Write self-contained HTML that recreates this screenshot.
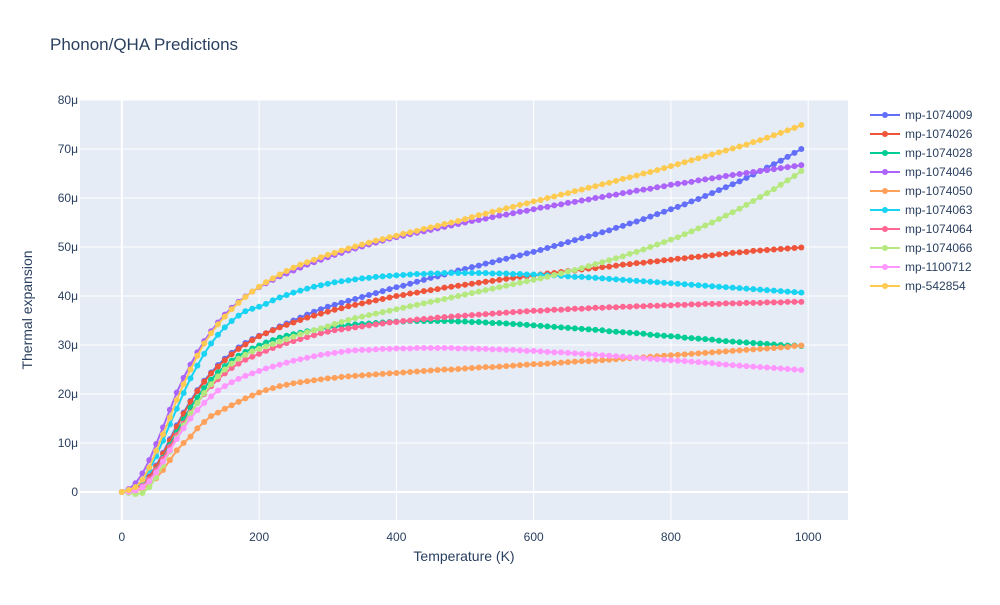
<!DOCTYPE html>
<html><head><meta charset="utf-8"><style>
body{margin:0;background:#fff;font-family:"Liberation Sans",sans-serif}
svg text{font-family:"Liberation Sans",sans-serif;fill:#2a3f5f}
</style></head><body>
<svg id="chart" width="1000" height="600" xmlns="http://www.w3.org/2000/svg">
<rect width="1000" height="600" fill="#fff"/>
<rect x="80" y="100" width="768" height="420" fill="#E5ECF6"/>
<g id="grid"></g><g id="series"></g><g id="legend"></g>
<text x="50" y="50" font-size="17">Phonon/QHA Predictions</text>
<text x="464" y="561" font-size="14" text-anchor="middle">Temperature (K)</text>
<text x="0" y="0" font-size="14" text-anchor="middle" transform="translate(32,310) rotate(-90)">Thermal expansion</text>
</svg>
<script>
const names=["mp-1074009","mp-1074026","mp-1074028","mp-1074046","mp-1074050","mp-1074063","mp-1074064","mp-1074066","mp-1100712","mp-542854"];
const colors=["#636efa","#EF553B","#00cc96","#ab63fa","#FFA15A","#19d3f3","#FF6692","#B6E880","#FF97FF","#FECB52"];
const xTicks=[0,200,400,600,800,1000];
const yTicks=[0,10,20,30,40,50,60,70,80];
const yTickLabels=["0","10μ","20μ","30μ","40μ","50μ","60μ","70μ","80μ"];
const temps=[0,10,20,30,40,50,60,70,80,90,100,110,120,130,140,150,160,170,180,190,200,210,220,230,240,250,260,270,280,290,300,310,320,330,340,350,360,370,380,390,400,410,420,430,440,450,460,470,480,490,500,510,520,530,540,550,560,570,580,590,600,610,620,630,640,650,660,670,680,690,700,710,720,730,740,750,760,770,780,790,800,810,820,830,840,850,860,870,880,890,900,910,920,930,940,950,960,970,980,990];
const s1074009=[0,0.2,0.7,1.6,3.2,5.4,8,10.8,13.6,16.2,18.6,20.8,22.7,24.4,25.9,27.2,28.4,29.5,30.4,31.2,31.9,32.4,33.1,33.8,34.4,35,35.6,36.2,36.8,37.3,37.8,38.2,38.6,39,39.4,39.8,40.2,40.6,41,41.4,41.8,42.1,42.5,42.9,43.3,43.7,44,44.4,44.8,45.2,45.5,45.9,46.2,46.6,46.9,47.3,47.6,48,48.3,48.7,49,49.4,49.8,50.2,50.6,51,51.4,51.8,52.2,52.6,53,53.4,53.9,54.3,54.8,55.2,55.7,56.2,56.7,57.2,57.7,58.2,58.7,59.3,59.8,60.4,61,61.6,62.2,62.8,63.4,64.1,64.8,65.5,66.2,66.9,67.6,68.4,69.2,70];
const s1074026=[0,0.2,0.6,1.5,3,5.2,7.8,10.5,13.3,16,18.4,20.6,22.5,24.2,25.6,26.9,28.1,29.2,30.1,31,31.8,32.4,33,33.6,34.1,34.6,35.1,35.6,36,36.4,36.8,37.2,37.5,37.9,38.2,38.5,38.8,39.1,39.4,39.7,40,40.2,40.5,40.7,41,41.2,41.4,41.7,41.9,42.1,42.3,42.5,42.7,42.9,43.1,43.3,43.5,43.7,43.9,44,44.2,44.4,44.6,44.7,44.9,45.1,45.2,45.4,45.6,45.7,45.9,46,46.2,46.4,46.5,46.7,46.8,47,47.1,47.3,47.4,47.6,47.7,47.9,48,48.2,48.3,48.5,48.6,48.8,48.9,49,49.2,49.3,49.4,49.5,49.6,49.7,49.8,49.9];
const s1074028=[0,0.1,0.4,1.2,2.6,4.6,7,9.6,12.2,14.8,17.2,19.3,21.2,22.9,24.4,25.7,26.8,27.8,28.6,29.3,29.9,30.5,31,31.5,31.9,32.2,32.5,32.8,33,33.3,33.5,33.7,33.9,34,34.2,34.3,34.4,34.5,34.6,34.7,34.8,34.8,34.9,34.9,34.9,34.9,34.9,34.9,34.9,34.8,34.8,34.7,34.7,34.6,34.5,34.5,34.4,34.3,34.2,34.1,34,33.9,33.8,33.7,33.6,33.5,33.4,33.3,33.2,33.1,33,32.8,32.7,32.6,32.5,32.4,32.3,32.1,32,31.9,31.8,31.7,31.5,31.4,31.3,31.2,31.1,30.9,30.8,30.7,30.6,30.5,30.4,30.3,30.2,30.1,30,29.9,29.9,29.8];
const s1074046=[0,0.6,1.8,3.8,6.5,9.8,13.2,16.8,20.3,23.3,26,28.5,30.8,32.8,34.6,36.2,37.6,38.8,39.9,40.9,41.8,42.6,43.3,44,44.6,45.2,45.8,46.4,46.9,47.4,47.9,48.4,48.8,49.3,49.7,50.1,50.5,50.9,51.3,51.7,52,52.3,52.6,52.9,53.2,53.5,53.8,54.1,54.4,54.7,55,55.3,55.5,55.8,56.1,56.4,56.6,56.9,57.2,57.4,57.7,58,58.2,58.5,58.7,59,59.2,59.5,59.7,60,60.2,60.5,60.7,61,61.2,61.5,61.7,61.9,62.2,62.4,62.7,62.9,63.1,63.3,63.6,63.8,64,64.2,64.5,64.7,64.9,65.1,65.3,65.5,65.7,65.9,66.1,66.3,66.5,66.7];
const s1074050=[0,0,0.2,0.7,1.5,2.8,4.5,6.5,8.5,10,11.3,13,14.3,15.5,16.2,17,17.7,18.4,19.1,19.7,20.3,20.8,21.2,21.6,21.9,22.2,22.4,22.6,22.8,23,23.2,23.3,23.5,23.6,23.7,23.8,23.9,24,24.1,24.2,24.3,24.4,24.5,24.6,24.7,24.8,24.9,25,25,25.1,25.2,25.3,25.4,25.5,25.5,25.6,25.7,25.8,25.9,26,26.1,26.1,26.2,26.3,26.4,26.5,26.6,26.7,26.7,26.8,26.9,27,27.1,27.2,27.3,27.4,27.5,27.6,27.7,27.8,27.9,28,28.1,28.2,28.3,28.4,28.5,28.6,28.7,28.8,28.9,29,29.1,29.2,29.3,29.4,29.5,29.6,29.8,29.9];
const s1074063=[0,0.3,1,2.3,4.5,7.3,10.5,13.8,17,20.2,23.2,25.8,28.2,30.3,32.1,33.6,34.9,36,36.9,37.4,37.8,38.4,39.1,39.7,40.2,40.7,41.1,41.5,41.9,42.2,42.5,42.8,43,43.2,43.4,43.6,43.7,43.9,44,44.1,44.2,44.3,44.4,44.5,44.5,44.6,44.6,44.7,44.7,44.7,44.7,44.7,44.7,44.7,44.6,44.6,44.6,44.5,44.5,44.4,44.4,44.3,44.2,44.2,44.1,44,43.9,43.9,43.8,43.7,43.6,43.5,43.4,43.3,43.2,43.1,43,42.9,42.8,42.7,42.6,42.5,42.4,42.3,42.2,42.1,42,41.9,41.8,41.7,41.6,41.5,41.4,41.3,41.2,41.1,41,40.9,40.8,40.7];
const s1074064=[0,0.1,0.4,1.2,2.6,4.5,6.8,9.2,11.6,14,16.2,18.2,20,21.6,23,24.2,25.3,26.2,27,27.6,28.2,28.8,29.4,29.9,30.4,30.8,31.2,31.6,32,32.4,32.7,33,33.2,33.4,33.6,33.8,34,34.2,34.4,34.6,34.7,34.9,35,35.2,35.3,35.4,35.6,35.7,35.8,35.9,36,36.1,36.2,36.3,36.4,36.5,36.6,36.7,36.8,36.9,37,37,37.1,37.2,37.2,37.3,37.4,37.4,37.5,37.6,37.6,37.7,37.7,37.8,37.8,37.9,37.9,38,38,38.1,38.1,38.2,38.2,38.3,38.3,38.4,38.4,38.4,38.5,38.5,38.5,38.6,38.6,38.6,38.7,38.7,38.7,38.8,38.8,38.8];
const s1074066=[0,-0.2,-0.4,-0.2,1,3,5.5,8.3,11,13.6,16,18.2,20.2,22,23.6,25,26.2,27.2,28,28.7,29.2,29.7,30.2,30.7,31.2,31.7,32.2,32.6,33,33.4,33.8,34.3,34.7,35.1,35.5,35.8,36.1,36.4,36.7,37,37.3,37.6,37.9,38.2,38.5,38.8,39.1,39.4,39.7,40,40.3,40.6,40.9,41.2,41.5,41.8,42.1,42.4,42.7,43,43.3,43.6,43.9,44.3,44.6,45,45.3,45.7,46.1,46.5,46.9,47.3,47.7,48.1,48.6,49,49.5,50,50.5,51,51.5,52,52.6,53.2,53.8,54.4,55,55.7,56.4,57.1,57.8,58.6,59.4,60.2,61,61.8,62.7,63.6,64.5,65.5];
const s1100712=[0,0,0.3,1,2.2,4,6.2,8.5,10.8,13,15,16.7,18.2,19.5,20.7,21.6,22.4,23.1,23.7,24.2,24.7,25.2,25.6,26,26.4,26.8,27.1,27.4,27.7,28,28.2,28.4,28.6,28.8,28.9,29,29,29.1,29.2,29.2,29.3,29.3,29.3,29.4,29.4,29.4,29.4,29.4,29.4,29.3,29.3,29.3,29.2,29.2,29.1,29.1,29,29,28.9,28.8,28.8,28.7,28.6,28.5,28.5,28.4,28.3,28.2,28.1,28,27.9,27.8,27.7,27.6,27.5,27.4,27.3,27.2,27.1,27,26.9,26.8,26.7,26.6,26.5,26.4,26.3,26.1,26,25.9,25.8,25.7,25.6,25.5,25.4,25.3,25.2,25.1,25,24.9];
const s542854=[0,0.4,1,2.5,5,8.4,11.8,15.2,18.8,22,25,27.8,30.3,32.4,34.2,35.8,37.3,38.6,39.8,40.9,41.9,42.8,43.6,44.4,45.1,45.8,46.4,46.9,47.4,47.9,48.4,48.8,49.3,49.7,50.1,50.5,50.9,51.3,51.6,52,52.3,52.7,53,53.3,53.7,54,54.3,54.7,55,55.3,55.7,56.1,56.5,56.8,57.2,57.5,57.9,58.2,58.6,58.9,59.3,59.6,60,60.3,60.7,61,61.4,61.7,62.1,62.4,62.8,63.1,63.5,63.9,64.2,64.6,65,65.3,65.7,66.1,66.5,66.9,67.3,67.7,68.1,68.5,68.9,69.3,69.7,70.1,70.5,70.9,71.4,71.8,72.3,72.8,73.3,73.8,74.3,74.9];
const seriesVals=[s1074009,s1074026,s1074028,s1074046,s1074050,s1074063,s1074064,s1074066,s1100712,s542854];

const NS="http://www.w3.org/2000/svg";
const X0=80,X1=848,Y0=100,Y1=520,XMIN=-61,XMAX=1058,YMIN=-5.71,YMAX=80;
function xs(v){return X0+(v-XMIN)/(XMAX-XMIN)*(X1-X0);}
function ys(v){return Y1-(v-YMIN)/(YMAX-YMIN)*(Y1-Y0);}
function mk(tag,attrs,parent){const e=document.createElementNS(NS,tag);for(const k in attrs)e.setAttribute(k,attrs[k]);parent.appendChild(e);return e;}
const grid=document.getElementById('grid');
xTicks.forEach(t=>{
  const l=mk('line',{x1:xs(t),x2:xs(t),y1:Y0,y2:Y1,stroke:'#fff','stroke-width':t===0?2:1},grid);
  
  
  const tx=mk('text',{x:xs(t),y:541,'font-size':12,'text-anchor':'middle'},grid);
  tx.textContent=t;
  
  
});
yTicks.forEach((t,i)=>{
  const l=mk('line',{x1:X0,x2:X1,y1:ys(t),y2:ys(t),stroke:'#fff','stroke-width':t===0?2:1},grid);
  
  
  const tx=mk('text',{x:78,y:ys(t)+4,'font-size':12,'text-anchor':'end'},grid);
  tx.textContent=yTickLabels[i];
  
  
});
const sg=document.getElementById('series');
seriesVals.forEach((vals,si)=>{
  const g=mk('g',{},sg);
  
  
  const pts=vals.map((v,i)=>xs(temps[i]).toFixed(1)+','+ys(v).toFixed(1)).join(' ');
  const pl=mk('polyline',{points:pts,fill:'none',stroke:colors[si],'stroke-width':2},g);
  
  
  vals.forEach((v,i)=>{
    const c=mk('circle',{cx:xs(temps[i]),cy:ys(v),r:3,fill:colors[si]},g);
    
    
  });
});
const lg=document.getElementById('legend');
names.forEach((n,i)=>{
  const y=115+i*19;
  const g=mk('g',{},lg);
  
  
  mk('line',{x1:870,x2:900,y1:y,y2:y,stroke:colors[i],'stroke-width':2},g);
  mk('circle',{cx:885,cy:y,r:3,fill:colors[i]},g);
  const t=mk('text',{x:905,y:y+4,'font-size':12},g);
  t.textContent=n;
});
</script>
</body></html>
